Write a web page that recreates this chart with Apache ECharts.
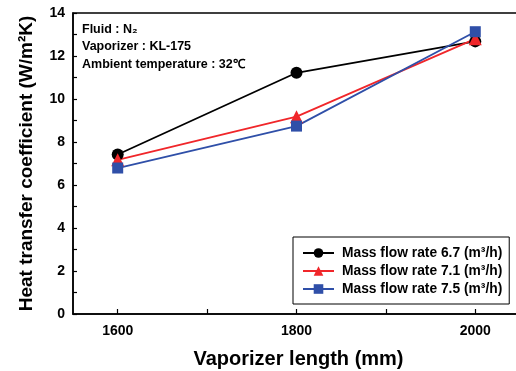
<!DOCTYPE html>
<html>
<head>
<meta charset="utf-8">
<script src="https://cdn.jsdelivr.net/npm/echarts@6/dist/echarts.min.js"></script>
<style>
  html, body { margin: 0; padding: 0; background: #fff; }
  #chart { width: 516px; height: 371px; }
</style>
</head>
<body>
<div id="chart"></div>
<script>
// Vaporizer lengths (mm)
const lengths = [1600, 1800, 2000];
// Heat transfer coefficient (W/m2K) for each mass flow rate
const rate67 = [7.42, 11.22, 12.68];
const rate71 = [7.17, 9.18, 12.8];
const rate75 = [6.79, 8.74, 13.13];
const seriesNames = [
  'Mass flow rate 6.7 (m\u00B3/h)',
  'Mass flow rate 7.1 (m\u00B3/h)',
  'Mass flow rate 7.5 (m\u00B3/h)'
];
const xTickLabels = [1600, 1800, 2000];
const xTicks = [1600, 1700, 1800, 1900, 2000];
const yTicks = [0, 1, 2, 3, 4, 5, 6, 7, 8, 9, 10, 11, 12, 13, 14];
const yTickLabels = [0, 2, 4, 6, 8, 10, 12, 14];

const FONT = '"Liberation Sans", Arial, sans-serif';
const pairs = (ys) => lengths.map((x, i) => [x, ys[i]]);

const chart = echarts.init(document.getElementById('chart'), null, { renderer: 'canvas' });

const lineSeries = (name, data, color, symbol, size) => ({
  name: name,
  type: 'line',
  data: pairs(data),
  symbol: symbol,
  symbolSize: size,
  showSymbol: true,
  lineStyle: { color: color, width: 1.8 },
  itemStyle: { color: color },
  emphasis: { disabled: true },
  animation: false
});

chart.setOption({
  animation: false,
  grid: {
    left: 73, top: 13, width: 451, height: 301,
    outerBoundsMode: 'none',
    containLabel: false,
    show: true, borderColor: '#000', borderWidth: 1.5, backgroundColor: 'transparent'
  },
  xAxis: {
    type: 'value',
    min: 1550, max: 2054.5,
    axisLine: { onZero: false, lineStyle: { color: '#000', width: 1.5 } },
    axisTick: { inside: true, length: 5, customValues: xTicks, lineStyle: { color: '#000', width: 1.2 } },
    axisLabel: {
      customValues: xTickLabels, color: '#000', fontFamily: FONT, fontWeight: 'bold', fontSize: 14, margin: 10,
      formatter: (v) => String(v)
    },
    splitLine: { show: false },
    name: 'Vaporizer length (mm)',
    nameLocation: 'middle',
    nameGap: 35,
    nameTextStyle: { color: '#000', fontFamily: FONT, fontWeight: 'bold', fontSize: 20 }
  },
  yAxis: {
    type: 'value',
    min: 0, max: 14,
    axisLine: { show: true, lineStyle: { color: '#000', width: 1.5 } },
    axisTick: { inside: true, length: 4, customValues: yTicks, lineStyle: { color: '#000', width: 1.2 } },
    axisLabel: { customValues: yTickLabels, color: '#000', fontFamily: FONT, fontWeight: 'bold', fontSize: 14, margin: 8 },
    splitLine: { show: false },
    name: 'Heat transfer coefficient (W/m\u00B2K)',
    nameLocation: 'middle',
    nameGap: 37,
    nameRotate: 90,
    nameTextStyle: { color: '#000', fontFamily: FONT, fontWeight: 'bold', fontSize: 19 }
  },
  legend: {
    orient: 'vertical',
    left: 293, top: 237,
    padding: [9, 7, 8, 9],
    itemGap: 4,
    itemWidth: 31, itemHeight: 12,
    borderColor: '#000', borderWidth: 1,
    backgroundColor: '#fff',
    selectedMode: false,
    textStyle: { color: '#000', fontFamily: FONT, fontWeight: 'bold', fontSize: 13.8, padding: [0, 0, 0, 3] },
    data: seriesNames
  },
  graphic: [
    {
      type: 'text', left: 82, top: 23,
      style: { text: 'Fluid : N\u2082', fill: '#000', font: 'bold 12.5px ' + FONT }
    },
    {
      type: 'text', left: 82, top: 40,
      style: { text: 'Vaporizer : KL-175', fill: '#000', font: 'bold 12.5px ' + FONT }
    },
    {
      type: 'text', left: 82, top: 58,
      style: { text: 'Ambient temperature : 32\u2103', fill: '#000', font: 'bold 12.5px ' + FONT }
    }
  ],
  series: [
    lineSeries(seriesNames[0], rate67, '#000000', 'circle', 12),
    lineSeries(seriesNames[1], rate71, '#f0262a', 'triangle', 13),
    lineSeries(seriesNames[2], rate75, '#2f4fa8', 'rect', 11)
  ]
});
</script>
</body>
</html>
